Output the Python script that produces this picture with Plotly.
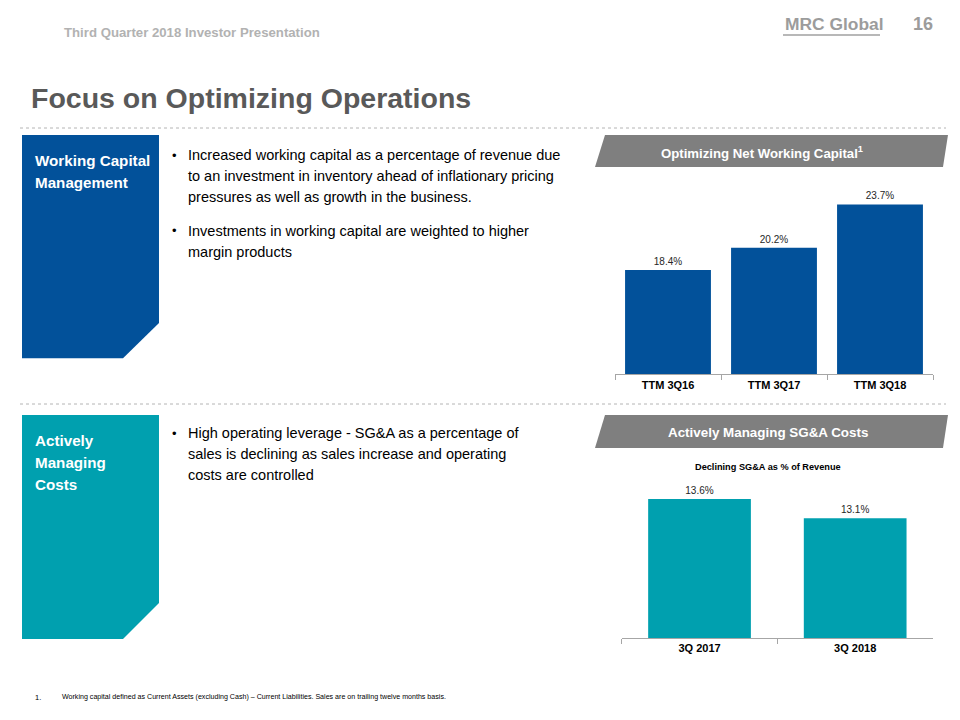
import plotly.graph_objects as go

W, H = 960, 720


def px(x):
    return x / W


def py(y):
    return 1 - y / H


# ---- data ----
nwc_categories = ["TTM 3Q16", "TTM 3Q17", "TTM 3Q18"]
nwc_values = [18.4, 20.2, 23.7]
sga_categories = ["3Q 2017", "3Q 2018"]
sga_values = [13.6, 13.1]

bullets_wc = [
    ["Increased working capital as a percentage of revenue due",
     "to an investment in inventory ahead of inflationary pricing",
     "pressures as well as growth in the business."],
    ["Investments in working capital are weighted to higher",
     "margin products"],
]
bullets_cost = [
    ["High operating leverage - SG&A as a percentage of",
     "sales is declining as sales increase and operating",
     "costs are controlled"],
]

BLUE = "#02519A"
TEAL = "#00A0AF"
GREY_HDR = "#7F7F7F"
FONT = "Liberation Sans, Arial, sans-serif"

fig = go.Figure()

fig.add_trace(go.Bar(
    x=nwc_categories, y=nwc_values, width=0.81,
    marker=dict(color=BLUE, line=dict(width=0)),
    texttemplate="%{y:.1f}%", textposition="outside",
    textfont=dict(family=FONT, size=10, color="#262626"),
    xaxis="x", yaxis="y", showlegend=False, hoverinfo="skip",
))
fig.add_trace(go.Bar(
    x=sga_categories, y=sga_values, width=0.66,
    marker=dict(color=TEAL, line=dict(width=0)),
    texttemplate="%{y:.1f}%", textposition="outside",
    textfont=dict(family=FONT, size=10, color="#262626"),
    xaxis="x2", yaxis="y2", showlegend=False, hoverinfo="skip",
))

xcommon = dict(
    type="category", showline=True, linecolor="#A6A6A6", linewidth=1,
    ticks="outside", tickson="boundaries", ticklen=5, tickcolor="#A6A6A6",
    tickfont=dict(family=FONT, size=11, color="#000000", weight="bold"),
    showgrid=False, zeroline=False, fixedrange=True,
)

fig.update_layout(
    width=W, height=H, autosize=False,
    margin=dict(l=0, r=0, t=0, b=0),
    paper_bgcolor="white", plot_bgcolor="rgba(0,0,0,0)",
    xaxis=dict(domain=[px(615), px(933)], anchor="y", range=[-0.5, 2.5], **xcommon),
    yaxis=dict(domain=[py(374.3), py(175)], anchor="x", range=[10, 26.07],
               visible=False, fixedrange=True),
    xaxis2=dict(domain=[px(621.7), px(933)], anchor="y2", range=[-0.5, 1.5], **xcommon),
    yaxis2=dict(domain=[py(638), py(470)], anchor="x2", range=[10, 14.35],
                visible=False, fixedrange=True),
)

shapes = []


def poly(points, color):
    d = "M " + " L ".join(f"{px(x):.5f},{py(y):.5f}" for x, y in points) + " Z"
    return dict(type="path", xref="paper", yref="paper", path=d,
                fillcolor=color, line=dict(width=0), layer="below")


# dotted separators
for yy in (128, 404):
    shapes.append(dict(type="line", xref="paper", yref="paper",
                       x0=px(20), x1=px(946), y0=py(yy), y1=py(yy),
                       line=dict(color="#B4B4B4", width=1, dash="dot")))

# left coloured boxes with chamfered corner
shapes.append(poly([(22, 135), (159, 135), (159, 323), (123, 358.3), (22, 358.3)], BLUE))
shapes.append(poly([(22, 415), (159, 415), (159, 603), (123, 639), (22, 639)], TEAL))

# grey header banners
shapes.append(poly([(605, 135), (948, 135), (943, 167), (595, 167)], GREY_HDR))
shapes.append(poly([(605, 415), (948, 415), (943, 448), (595, 448)], GREY_HDR))

# logo underline
shapes.append(dict(type="line", xref="paper", yref="paper",
                   x0=px(783), x1=px(880), y0=py(35), y1=py(35),
                   line=dict(color="#A0A0A0", width=1.5)))

fig.update_layout(shapes=shapes)

ann = []


def text(x, y, s, size, color, bold=False, xanchor="left"):
    ann.append(dict(x=px(x), y=py(y), xref="paper", yref="paper", text=s,
                    showarrow=False, xanchor=xanchor, yanchor="middle",
                    font=dict(family=FONT, size=size, color=color,
                              weight="bold" if bold else "normal")))


# header
text(62, 33, "Third Quarter 2018 Investor Presentation", 13.2, "#B2B2B2", bold=True)
text(783, 24, "MRC Global", 17.4, "#9C9C9C", bold=True)
text(911, 24, "16", 18, "#9C9C9C", bold=True)

# title
text(29, 98, "Focus on Optimizing Operations", 28.5, "#595959", bold=True)

# box labels
text(33, 160, "Working Capital", 15.2, "white", bold=True)
text(33, 182, "Management", 15.2, "white", bold=True)
text(33, 440, "Actively", 15.2, "white", bold=True)
text(33, 462, "Managing", 15.2, "white", bold=True)
text(33, 484, "Costs", 15.2, "white", bold=True)

# bullets
LINE = 21


def bullet_block(blocks, starts):
    for lines, y0 in zip(blocks, starts):
        text(170, y0, "•", 13, "#000000")
        for i, ln in enumerate(lines):
            text(186, y0 + i * LINE, ln, 14.5, "#000000")


bullet_block(bullets_wc, [155, 231])
bullet_block(bullets_cost, [433])

# chart banner titles
text(762, 152, "Optimizing Net Working Capital<sup>1</sup>", 13.2, "white", bold=True, xanchor="center")
text(768, 432, "Actively Managing SG&A Costs", 13.4, "white", bold=True, xanchor="center")
text(768, 467, "Declining SG&A as % of Revenue", 9.2, "#000000", bold=True, xanchor="center")

# footnote
text(33, 697, "1.", 7.5, "#000000")
text(60, 697, "Working capital defined as Current Assets (excluding Cash) \u2013 Current Liabilities. "
     "Sales are on trailing twelve months basis.", 7.1, "#000000")

fig.update_layout(annotations=ann)

fig.write_html("out.html", config={"displayModeBar": False},
               post_script="document.body.style.margin='0';document.body.style.padding='0';")
